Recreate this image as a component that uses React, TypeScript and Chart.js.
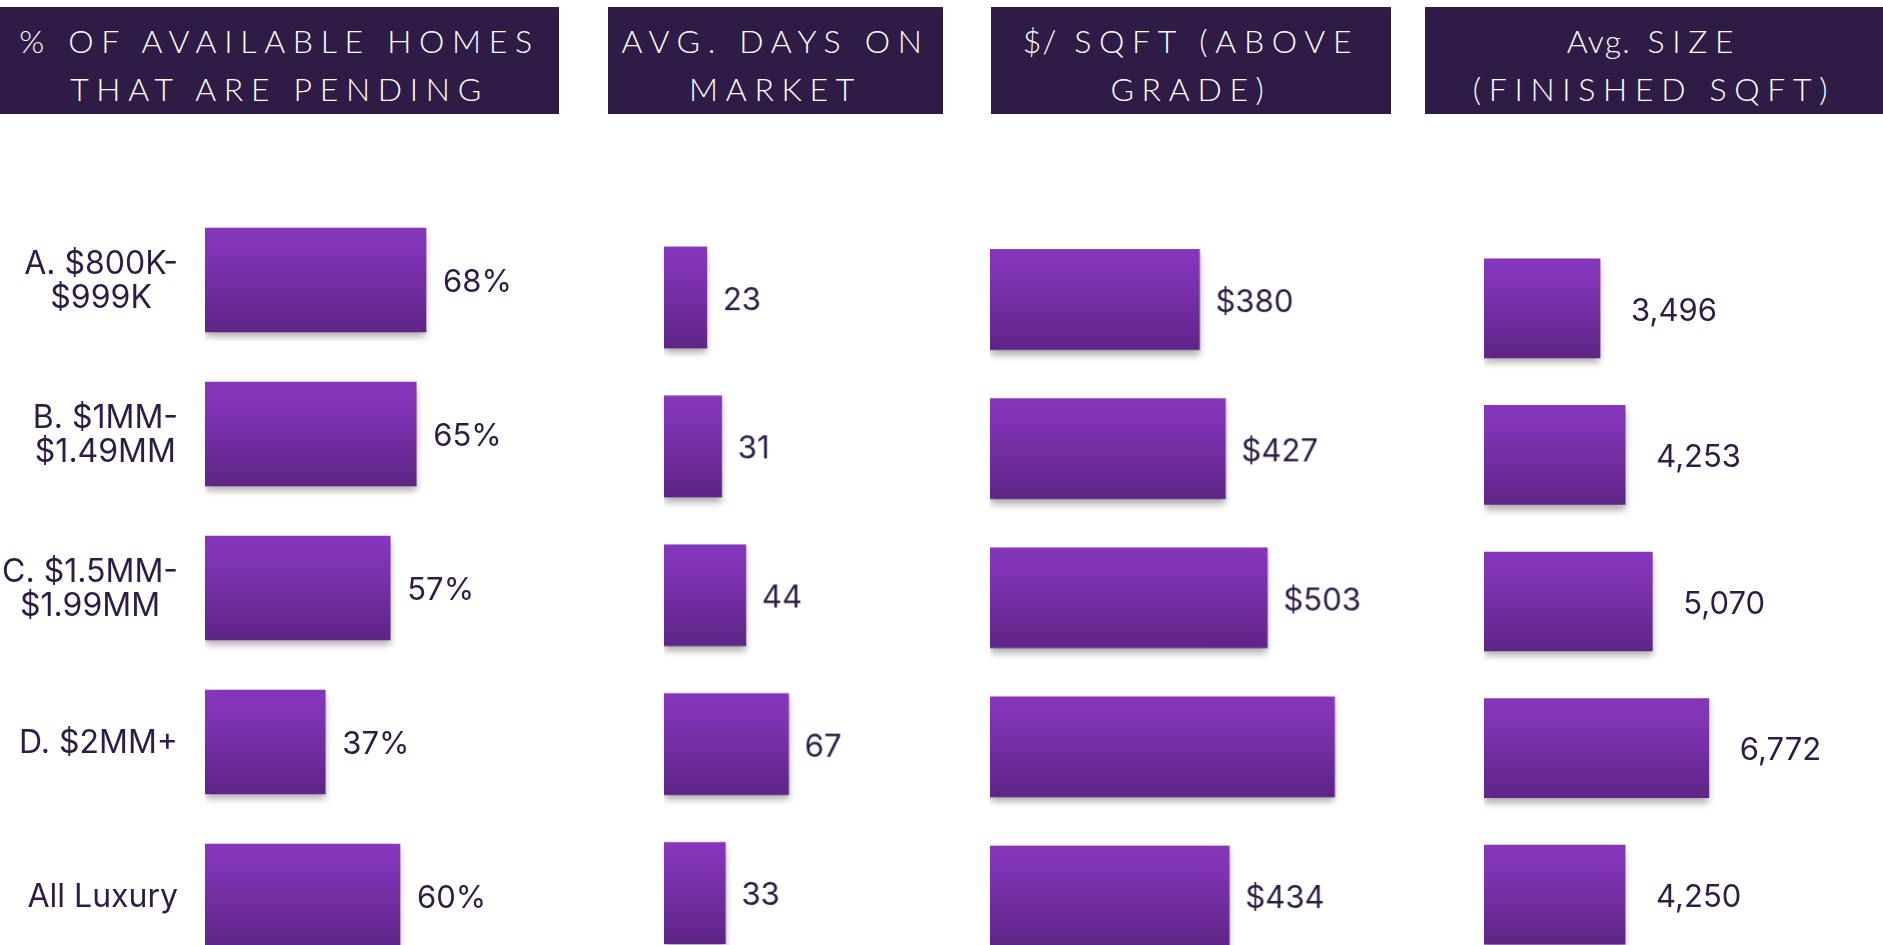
import React, { useEffect, useRef } from "react";
import { Chart, registerables } from "chart.js";

Chart.register(...registerables);

// ---------- DATA ----------
const categories: (string | string[])[] = [
  ["A. $800K-", "$999K"],
  ["B. $1MM-", "$1.49MM"],
  ["C. $1.5MM-", "$1.99MM"],
  "D. $2MM+",
  "All Luxury",
];
const pendingPct = [68, 65, 57, 37, 60];
const pendingLabels = ["68%", "65%", "57%", "37%", "60%"];
const daysOnMarket = [23, 31, 44, 67, 33];
const daysLabels = ["23", "31", "44", "67", "33"];
const pricePerSqft = [380, 427, 503, 625, 434];
const priceLabels = ["$380", "$427", "$503", "", "$434"];
const avgSize = [3496, 4253, 5070, 6772, 4250];
const sizeLabels = ["3,496", "4,253", "5,070", "6,772", "4,250"];
const headers: string[][][] = [
  [["% OF AVAILABLE HOMES"], ["THAT ARE PENDING"]],
  [["AVG. DAYS ON"], ["MARKET"]],
  [["$/", " SQFT (ABOVE"], ["GRADE)"]],
  [["Avg.", " SIZE"], ["(FINISHED SQFT)"]],
];

// ---------- STYLE / LAYOUT ----------
const DARK = "#2e1b46";
const TEXT = "#2e1c45";
const FONT = "Inter, 'Open Sans', sans-serif";
const CAT_SIZE = 32;
const CAT_LINE = 34;
const CAT_PAD = 27;

const headerBoxes = [
  { left: 0, width: 559 },
  { left: 608, width: 335 },
  { left: 991, width: 400 },
  { left: 1425, width: 458 },
];

type Panel = {
  data: number[];
  labels: string[];
  max: number;
  left: number;
  top: number;
  axisWidth: number;
  plotWidth: number;
  pitch: number;
  thickness: number;
  gap: number;
  showCats: boolean;
};

const panels: Panel[] = [
  { data: pendingPct, labels: pendingLabels, max: 100, left: 0, top: 203, axisWidth: 205, plotWidth: 325, pitch: 154, thickness: 104, gap: 17, showCats: true },
  { data: daysOnMarket, labels: daysLabels, max: 100, left: 664, top: 223, axisWidth: 0, plotWidth: 185.5, pitch: 148.7, thickness: 101, gap: 16, showCats: false },
  { data: pricePerSqft, labels: priceLabels, max: 1000, left: 990, top: 225, axisWidth: 0, plotWidth: 550.6, pitch: 148.9, thickness: 100, gap: 16, showCats: false },
  { data: avgSize, labels: sizeLabels, max: 10000, left: 1484, top: 235, axisWidth: 0, plotWidth: 332, pitch: 146.6, thickness: 99, gap: 31, showCats: false },
];

const EXTRA = 160;

const barPlugin = {
  id: "barDeco",
  beforeDatasetsDraw(chart: any) {
    const c = chart.ctx;
    c.save();
    c.shadowColor = "rgba(0,0,0,0.32)";
    c.shadowBlur = 7;
    c.shadowOffsetX = 0;
    c.shadowOffsetY = 5;
  },
  afterDatasetsDraw(chart: any, _args: any, opts: any) {
    const c = chart.ctx;
    c.restore();
    const meta = chart.getDatasetMeta(0);
    meta.data.forEach((el: any, i: number) => {
      const txt = opts.labels[i];
      if (!txt) return;
      c.save();
      c.font = `400 ${opts.size}px ${FONT}`;
      c.fillStyle = TEXT;
      c.textBaseline = "middle";
      c.textAlign = "left";
      c.fillText(txt, el.x + opts.gap, el.y + 3);
      c.restore();
    });
    // category labels: each block right-aligned to the axis, lines centred within the block
    if (opts.showCats) {
      const ys = chart.scales.y;
      const cats = chart.data.labels as (string | string[])[];
      c.save();
      c.font = `400 ${CAT_SIZE}px ${FONT}`;
      c.fillStyle = TEXT;
      c.textBaseline = "middle";
      c.textAlign = "center";
      cats.forEach((lab, i) => {
        const lines = Array.isArray(lab) ? lab : [lab];
        const w = Math.max(...lines.map((l) => c.measureText(l).width));
        const right = ys.right - CAT_PAD;
        const cx = right - w / 2;
        const cy = ys.getPixelForValue(i);
        const y0 = cy - ((lines.length - 1) * CAT_LINE) / 2;
        lines.forEach((l, j) => c.fillText(l, cx, y0 + j * CAT_LINE + 1));
      });
      c.restore();
    }
  },
};

function BarPanel({ p }: { p: Panel }) {
  const ref = useRef<HTMLCanvasElement>(null);
  useEffect(() => {
    if (!ref.current) return;
    const t = p.thickness;
    const chart = new Chart(ref.current, {
      type: "bar",
      data: {
        labels: categories,
        datasets: [
          {
            data: p.data,
            barThickness: t,
            borderWidth: 0,
            backgroundColor: (ctx: any) => {
              const ch = ctx.chart;
              const ys = ch.scales && ch.scales.y;
              if (!ys || ctx.type !== "data") return "#7a31ad";
              const cy = ys.getPixelForValue(ctx.dataIndex);
              if (!Number.isFinite(cy)) return "#7a31ad";
              const g = ch.ctx.createLinearGradient(0, cy - t / 2, 0, cy + t / 2);
              g.addColorStop(0, "#8536bb");
              g.addColorStop(0.2, "#8234b6");
              g.addColorStop(1, "#5f2586");
              return g;
            },
          },
        ],
      },
      options: {
        indexAxis: "y",
        animation: false,
        responsive: true,
        maintainAspectRatio: false,
        layout: { padding: { left: 0, right: EXTRA, top: 0, bottom: 0 } },
        plugins: {
          legend: { display: false },
          tooltip: { enabled: false },
          title: { display: false },
          barDeco: { labels: p.labels, gap: p.gap, size: 31, showCats: p.showCats },
        } as any,
        scales: {
          x: { display: false, min: 0, max: p.max },
          y: {
            display: p.showCats,
            grid: { display: false, drawTicks: false },
            border: { display: false },
            ticks: { display: false },
            afterFit: (s: any) => {
              s.width = p.axisWidth;
              s.paddingTop = 0;
              s.paddingBottom = 0;
            },
          },
        },
      },
      plugins: [barPlugin],
    });
    return () => chart.destroy();
  }, [p]);
  const w = p.axisWidth + p.plotWidth + EXTRA;
  const h = p.pitch * 5;
  return (
    <div style={{ position: "absolute", left: p.left, top: p.top, width: w, height: h }}>
      <canvas ref={ref} />
    </div>
  );
}

export default function App() {
  return (
    <div
      style={{
        position: "absolute",
        left: 0,
        top: 0,
        width: 1883,
        height: 945,
        overflow: "hidden",
        background: "#ffffff",
      }}
    >
      {headers.map((lines, i) => (
        <div
          key={i}
          style={{
            position: "absolute",
            left: headerBoxes[i].left,
            top: 7,
            width: headerBoxes[i].width,
            height: 107,
            boxSizing: "border-box",
            paddingTop: 9,
            background: DARK,
            color: "#ffffff",
            display: "flex",
            flexDirection: "column",
            alignItems: "center",
            justifyContent: "center",
            fontFamily: "Lato, sans-serif",
            fontWeight: 300,
            fontSize: 32,
            lineHeight: "48px",
            letterSpacing: "0.24em",
          }}
        >
          {lines.map((segs, j) => (
            <div key={j} style={{ whiteSpace: "pre" }}>
              {segs.length > 1 ? (
                <>
                  <span style={{ letterSpacing: "0.04em" }}>{segs[0]}</span>
                  {segs.slice(1).join("")}
                </>
              ) : (
                segs[0]
              )}
            </div>
          ))}
        </div>
      ))}
      {panels.map((p, i) => (
        <BarPanel key={i} p={p} />
      ))}
    </div>
  );
}
